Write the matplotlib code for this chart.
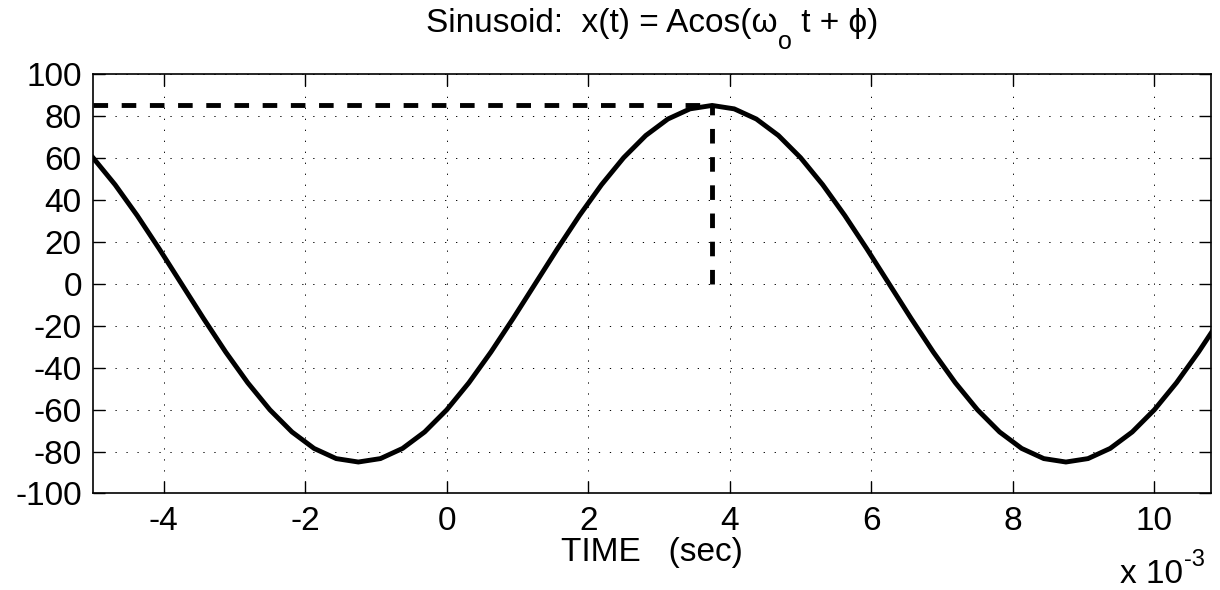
import matplotlib
matplotlib.use("Agg")
import matplotlib.pyplot as plt

# time samples (ms) and signal values
t_ms = [-5.0, -4.6875, -4.375, -4.0625, -3.75, -3.4375, -3.125, -2.8125,
        -2.5, -2.1875, -1.875, -1.5625, -1.25, -0.9375, -0.625, -0.3125,
        0.0, 0.3125, 0.625, 0.9375, 1.25, 1.5625, 1.875, 2.1875,
        2.5, 2.8125, 3.125, 3.4375, 3.75, 4.0625, 4.375, 4.6875,
        5.0, 5.3125, 5.625, 5.9375, 6.25, 6.5625, 6.875, 7.1875,
        7.5, 7.8125, 8.125, 8.4375, 8.75, 9.0625, 9.375, 9.6875,
        10.0, 10.3125, 10.625, 10.9375]
x_vals = [60.10, 47.22, 32.53, 16.58, 0.0, -16.58, -32.53, -47.22,
          -60.10, -70.67, -78.53, -83.37, -85.0, -83.37, -78.53, -70.67,
          -60.10, -47.22, -32.53, -16.58, 0.0, 16.58, 32.53, 47.22,
          60.10, 70.67, 78.53, 83.37, 85.0, 83.37, 78.53, 70.67,
          60.10, 47.22, 32.53, 16.58, 0.0, -16.58, -32.53, -47.22,
          -60.10, -70.67, -78.53, -83.37, -85.0, -83.37, -78.53, -70.67,
          -60.10, -47.22, -32.53, -16.58]

# marker lines for the peak
peak_t = 3.75
peak_x = 85.0

x_ticks = [-4, -2, 0, 2, 4, 6, 8, 10]
y_ticks = [-100, -80, -60, -40, -20, 0, 20, 40, 60, 80, 100]

plt.rcParams["font.family"] = ["Liberation Sans", "DejaVu Sans"]
plt.rcParams["axes.unicode_minus"] = False

W, H = 1220, 590
fig = plt.figure(figsize=(W / 100, H / 100), dpi=100)
ax = fig.add_axes([0.0762, 0.1636, 0.9164, 0.711])

dash = (0, (3.0, 2.8))
ax.plot(t_ms, x_vals, color="black", lw=3.5, solid_joinstyle="miter")
ax.plot([-5.0, peak_t], [peak_x, peak_x], color="black", lw=3.5, linestyle=dash)
ax.plot([peak_t, peak_t], [0, peak_x], color="black", lw=3.5, linestyle=dash)

ax.set_xlim(-5, 10.8)
ax.set_ylim(-100, 100)
ax.set_xticks(x_ticks)
ax.set_yticks(y_ticks)
ax.grid(True, color="black", linewidth=0.7, linestyle=(0, (1.3, 10)))
ax.tick_params(direction="in", length=8.5, width=1, top=True, right=True,
               labelsize=24)
ax.tick_params(axis="x", pad=9)
ax.tick_params(axis="y", pad=8)
for s in ax.spines.values():
    s.set_linewidth(1.2)

ax.set_xlabel("TIME   (sec)", fontsize=24, labelpad=0)

# title in pieces so the subscript sits low, MATLAB style
t1 = fig.text(0.5, (H - 32) / H, "Sinusoid:  x(t) = Acos(\u03c9", fontsize=24,
              ha="left", va="baseline")
t2 = ax.annotate("o", xy=(1, 0), xycoords=t1, xytext=(0.5, -7),
                 textcoords="offset points", fontsize=18, va="baseline",
                 annotation_clip=False)
t3 = ax.annotate(" t + \u03d5)", xy=(1, 0), xycoords=(t2, t1), xytext=(0, 0),
                 textcoords="offset points", fontsize=24, va="bottom",
                 annotation_clip=False)

# exponent label bottom right
e1 = fig.text(1122 / W, (H - 583) / H, "x 10", fontsize=24, ha="left",
              va="baseline")
e2 = ax.annotate("-3", xy=(1, 0), xycoords=e1, xytext=(0.5, 17),
                 textcoords="offset points", fontsize=17, va="baseline",
                 annotation_clip=False)

# centre the title over the axes
fig.canvas.draw()
r = fig.canvas.get_renderer()
left = t1.get_window_extent(r).x0
right = t3.get_window_extent(r).x1
t1.set_x(t1.get_position()[0] + (652 - (left + right) / 2) / W)
er = e2.get_window_extent(r).x1
e1.set_x(e1.get_position()[0] + (1205 - er) / W)

fig.savefig("out.png", dpi=100)
